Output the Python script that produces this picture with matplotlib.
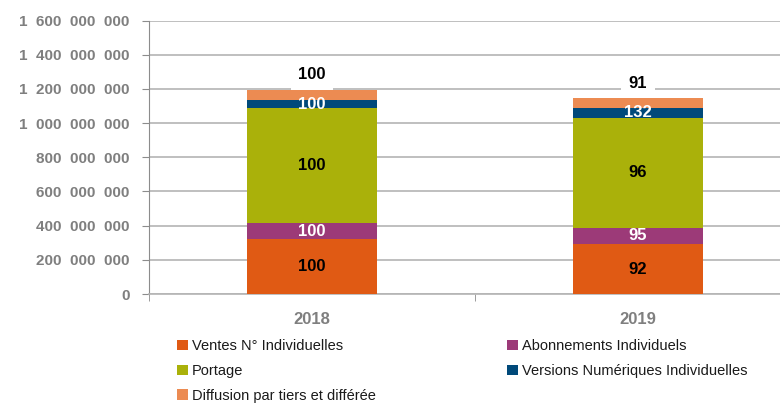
import matplotlib
matplotlib.use("Agg")
import matplotlib.pyplot as plt
from matplotlib.patches import Patch
import numpy as np

years = ["2018", "2019"]
series = ["Ventes N° Individuelles", "Abonnements Individuels", "Portage",
          "Versions Numériques Individuelles", "Diffusion par tiers et différée"]
ventes = [321e6, 292e6]
abonnements = [95e6, 95e6]
portage = [674e6, 645e6]
numeriques = [43e6, 58e6]
diffusion = [62e6, 56e6]
idx_ventes = ["100", "92"]
idx_abonnements = ["100", "95"]
idx_portage = ["100", "96"]
idx_numeriques = ["100", "132"]
idx_total = ["100", "91"]
yticks = [0, 200e6, 400e6, 600e6, 800e6, 1000e6, 1200e6, 1400e6, 1600e6]
ytick_labels = ["0", "200  000  000", "400  000  000", "600  000  000", "800  000  000",
                "1  000  000  000", "1  200  000  000", "1  400  000  000", "1  600  000  000"]

colors = ["#E05A14", "#9C3A78", "#AAB10A", "#00497A", "#EC8B52"]
FONT = ["Liberation Sans", "DejaVu Sans"]
plt.rcParams['font.family'] = FONT

fig = plt.figure(figsize=(7.8, 4.04), dpi=100)
ax = fig.add_axes([149/780, 110/404, 652/780, 273.5/404])

x = np.arange(len(years))
w = 0.4
data = [ventes, abonnements, portage, numeriques, diffusion]
labels = [idx_ventes, idx_abonnements, idx_portage, idx_numeriques, None]
lcolors = ["black", "white", "black", "white", None]
bottom = np.zeros(len(years))
handles = []
for vals, c, lab, lc, name in zip(data, colors, labels, lcolors, series):
    vals = np.array(vals)
    ax.bar(x, vals, w, bottom=bottom, color=c, zorder=3, edgecolor="none")
    if lab is not None:
        for xi, b, v, t in zip(x, bottom, vals, lab):
            ax.text(xi, b + v / 2, t, ha="center", va="center", color=lc,
                    fontsize=12, fontweight="bold", zorder=5)
    bottom = bottom + vals
    handles.append(Patch(facecolor=c, edgecolor="none", label=name))

for xi, tot, t in zip(x, bottom, idx_total):
    ax.annotate(t, (xi, tot), xytext=(0, 15), textcoords="offset pixels",
                ha="center", va="center", fontsize=12, fontweight="bold", color="black",
                bbox=dict(boxstyle="square,pad=0.45", fc="white", ec="none"), zorder=6)

ax.set_xlim(-0.5, 1.5)
ax.set_ylim(0, 1.6e9)
ax.set_yticks(yticks)
ax.set_yticklabels(ytick_labels)
ax.set_xticks(x)
ax.set_xticklabels(years)
ax.set_xticks([-0.5, 0.5, 1.5], minor=True)
ax.tick_params(axis="x", which="major", length=0, pad=13, labelsize=12, labelcolor="#7F7F7F")
ax.tick_params(axis="x", which="minor", length=5, color="#8C8C8C", direction="out")
ax.tick_params(axis="y", length=5, color="#8C8C8C", direction="out", pad=9,
               labelsize=11, labelcolor="#7F7F7F")
for lbl in ax.get_xticklabels() + ax.get_yticklabels():
    lbl.set_fontweight("bold")
ax.yaxis.grid(True, color="#B4B4B4", linewidth=1.2, zorder=0)
ax.set_axisbelow(True)
for s in ["top", "right"]:
    ax.spines[s].set_visible(False)
ax.spines["left"].set_color("#8C8C8C")
ax.spines["bottom"].set_color("#B4B4B4")
ax.spines["bottom"].set_linewidth(1.2)

cols = [([0, 2, 4], 177), ([1, 3], 507)]
for idxs, xpix in cols:
    leg = fig.legend([handles[i] for i in idxs], [series[i] for i in idxs],
                     loc="upper left", bbox_to_anchor=(xpix/780, 1 - 339/404),
                     frameon=False, fontsize=10.5, handlelength=0.75, handleheight=0.75,
                     handletextpad=0.25, labelspacing=0.75,
                     borderaxespad=0, borderpad=0)
    for t in leg.get_texts():
        t.set_color("#1A1A1A")

fig.savefig("out.png", dpi=100)
